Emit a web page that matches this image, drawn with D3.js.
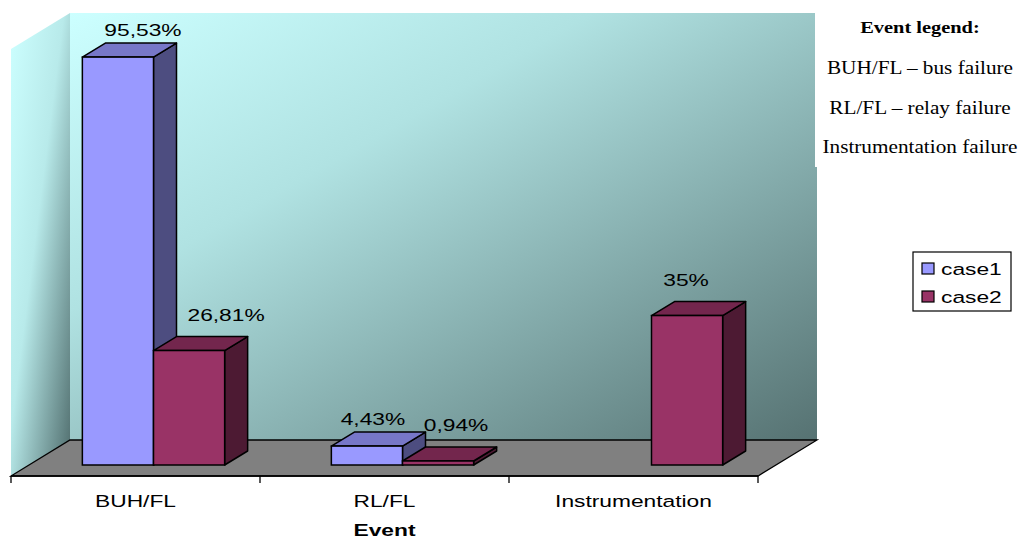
<!DOCTYPE html>
<html><head><meta charset="utf-8">
<script src="https://cdn.jsdelivr.net/npm/d3@7"></script>
<style>html,body{margin:0;padding:0;background:#fff;overflow:hidden}</style>
</head><body>
<svg id="chart" width="1025" height="538"></svg>
<script>
// ---- data ----
const categories = ["BUH/FL", "RL/FL", "Instrumentation"];
const seriesNames = ["case1", "case2"];
const case1 = [95.53, 4.43, null];
const case2 = [26.81, 0.94, 35];
const case1Labels = ["95,53%", "4,43%", null];
const case2Labels = ["26,81%", "0,94%", "35%"];
const axisTitle = "Event";
const legendTitle = "Event legend:";
const legendLines = ["BUH/FL – bus failure", "RL/FL – relay failure", "Instrumentation failure"];
const yMax = 100;

// ---- layout ----
const svg = d3.select("#chart");
const front = {x0: 11, x1: 758, y: 476};
const depth = {dx: 59, dy: -36};
const barOff = {dx: 18, dy: -11};
const barDepth = {dx: 23, dy: -14};
const wallH = 427;
const SX = 1.34; // horizontal stretch of chart text
const sans = "'Liberation Sans', Arial, sans-serif";
const serif = "'Liberation Serif', 'Times New Roman', serif";

const x = d3.scaleBand().domain(categories).range([front.x0, front.x1]);
const xs = d3.scaleBand().domain(seriesNames).range([0, x.bandwidth()]).paddingInner(0).paddingOuter(0.75);
const h = d3.scaleLinear().domain([0, yMax]).range([0, wallH]);

const defs = svg.append("defs");
const g1 = defs.append("linearGradient").attr("id", "wallGrad").attr("x1", 0).attr("y1", 0).attr("x2", 1).attr("y2", 1);
g1.append("stop").attr("offset", "0%").attr("stop-color", "#CCFFFF");
g1.append("stop").attr("offset", "35%").attr("stop-color", "#B0E2E2");
g1.append("stop").attr("offset", "100%").attr("stop-color", "#567272");
const g2 = defs.append("linearGradient").attr("id", "sideGrad").attr("x1", 0).attr("y1", 0).attr("x2", 1).attr("y2", 1);
g2.append("stop").attr("offset", "0%").attr("stop-color", "#CCFFFF");
g2.append("stop").attr("offset", "45%").attr("stop-color", "#B8EAEA");
g2.append("stop").attr("offset", "100%").attr("stop-color", "#4F6C6C");

const line = d3.line();
const backY = front.y + depth.dy;
const backX0 = front.x0 + depth.dx, backX1 = front.x1 + depth.dx;

// back wall
svg.append("rect").attr("x", backX0).attr("y", backY - h(yMax))
  .attr("width", backX1 - backX0).attr("height", h(yMax)).attr("fill", "url(#wallGrad)");
// side wall
svg.append("path").attr("d", line([[front.x0, front.y], [backX0, backY], [backX0, backY - h(yMax)], [front.x0, front.y - h(yMax)]]) + "Z")
  .attr("fill", "url(#sideGrad)");
// floor
svg.append("path").attr("d", line([[front.x0, front.y], [front.x1, front.y], [backX1, backY], [backX0, backY]]) + "Z")
  .attr("fill", "#808080").attr("stroke", "#000").attr("stroke-width", 1.3);

// axis line + ticks
svg.append("line").attr("x1", front.x0).attr("x2", front.x1).attr("y1", front.y).attr("y2", front.y)
  .attr("stroke", "#000").attr("stroke-width", 1.5);
const tickXs = categories.map(c => x(c)).concat([front.x1]);
svg.selectAll(".tick").data(tickXs).join("line")
  .attr("x1", d => d).attr("x2", d => d).attr("y1", front.y).attr("y2", front.y + 7)
  .attr("stroke", "#000").attr("stroke-width", 1.3);

function stretchedText(sel, px, py, txt, opts) {
  const g = sel.append("g").attr("transform", `translate(${px},${py})`);
  g.append("text").attr("transform", `scale(${opts.sx || SX},1)`)
    .attr("text-anchor", opts.anchor || "middle")
    .attr("font-family", opts.family || sans).attr("font-size", opts.size || 17)
    .attr("font-weight", opts.weight || "normal").attr("fill", "#000").text(txt);
}

// category labels
categories.forEach(c => stretchedText(svg, x(c) + x.bandwidth() / 2, 507, c, {}));
stretchedText(svg, x(categories[1]) + x.bandwidth() / 2, 536, axisTitle, {weight: "bold"});

// bars
const series = [
  {name: "case1", values: case1, labels: case1Labels, front: "#9999FF", top: "#7777C8", side: "#4D4D80"},
  {name: "case2", values: case2, labels: case2Labels, front: "#993366", top: "#73264D", side: "#4D1A33"}
];
const barsG = svg.append("g");
const labelsG = svg.append("g");
categories.forEach((c, i) => {
  series.forEach((s, si) => {
    const v = s.values[i];
    if (v == null) return;
    const bx0 = x(c) + xs(s.name) + barOff.dx;
    const bx1 = bx0 + xs.bandwidth();
    const by0 = front.y + barOff.dy;
    const by1 = by0 - h(v);
    const dx = barDepth.dx, dy = barDepth.dy;
    const st = {stroke: "#000", w: 1.5};
    barsG.append("path").attr("d", line([[bx1, by0], [bx1 + dx, by0 + dy], [bx1 + dx, by1 + dy], [bx1, by1]]) + "Z")
      .attr("fill", s.side).attr("stroke", st.stroke).attr("stroke-width", st.w).attr("stroke-linejoin", "round");
    barsG.append("path").attr("d", line([[bx0, by1], [bx1, by1], [bx1 + dx, by1 + dy], [bx0 + dx, by1 + dy]]) + "Z")
      .attr("fill", s.top).attr("stroke", st.stroke).attr("stroke-width", st.w).attr("stroke-linejoin", "round");
    barsG.append("rect").attr("x", bx0).attr("y", by1).attr("width", bx1 - bx0).attr("height", by0 - by1)
      .attr("fill", s.front).attr("stroke", st.stroke).attr("stroke-width", st.w);
    if (s.labels[i]) {
      const lx = (bx0 + bx1) / 2 + 25 + 12 * si - 19 * i;
      const ly = by1 + dy - 7 - 9 * si;
      stretchedText(labelsG, lx, ly, s.labels[i], {});
    }
  });
});

// legend text box (top right)
svg.append("rect").attr("x", 815).attr("y", 0).attr("width", 210).attr("height", 167).attr("fill", "#fff");
stretchedText(svg, 920, 33, legendTitle, {family: serif, size: 17, weight: "bold", sx: 1.2});
legendLines.forEach((t, i) => stretchedText(svg, 920, 74 + i * 39.5, t, {family: serif, size: 18, sx: 1.18}));

// series legend
const lg = svg.append("g").attr("transform", "translate(913,252)");
lg.append("rect").attr("x", 0).attr("y", 0).attr("width", 98).attr("height", 59)
  .attr("fill", "#fff").attr("stroke", "#000").attr("stroke-width", 1.2);
series.forEach((s, i) => {
  lg.append("rect").attr("x", 9).attr("y", 11 + i * 28).attr("width", 12).attr("height", 11)
    .attr("fill", s.front).attr("stroke", "#000").attr("stroke-width", 1.2);
  stretchedText(lg, 28, 23 + i * 28, s.name, {anchor: "start"});
});
</script>
</body></html>
